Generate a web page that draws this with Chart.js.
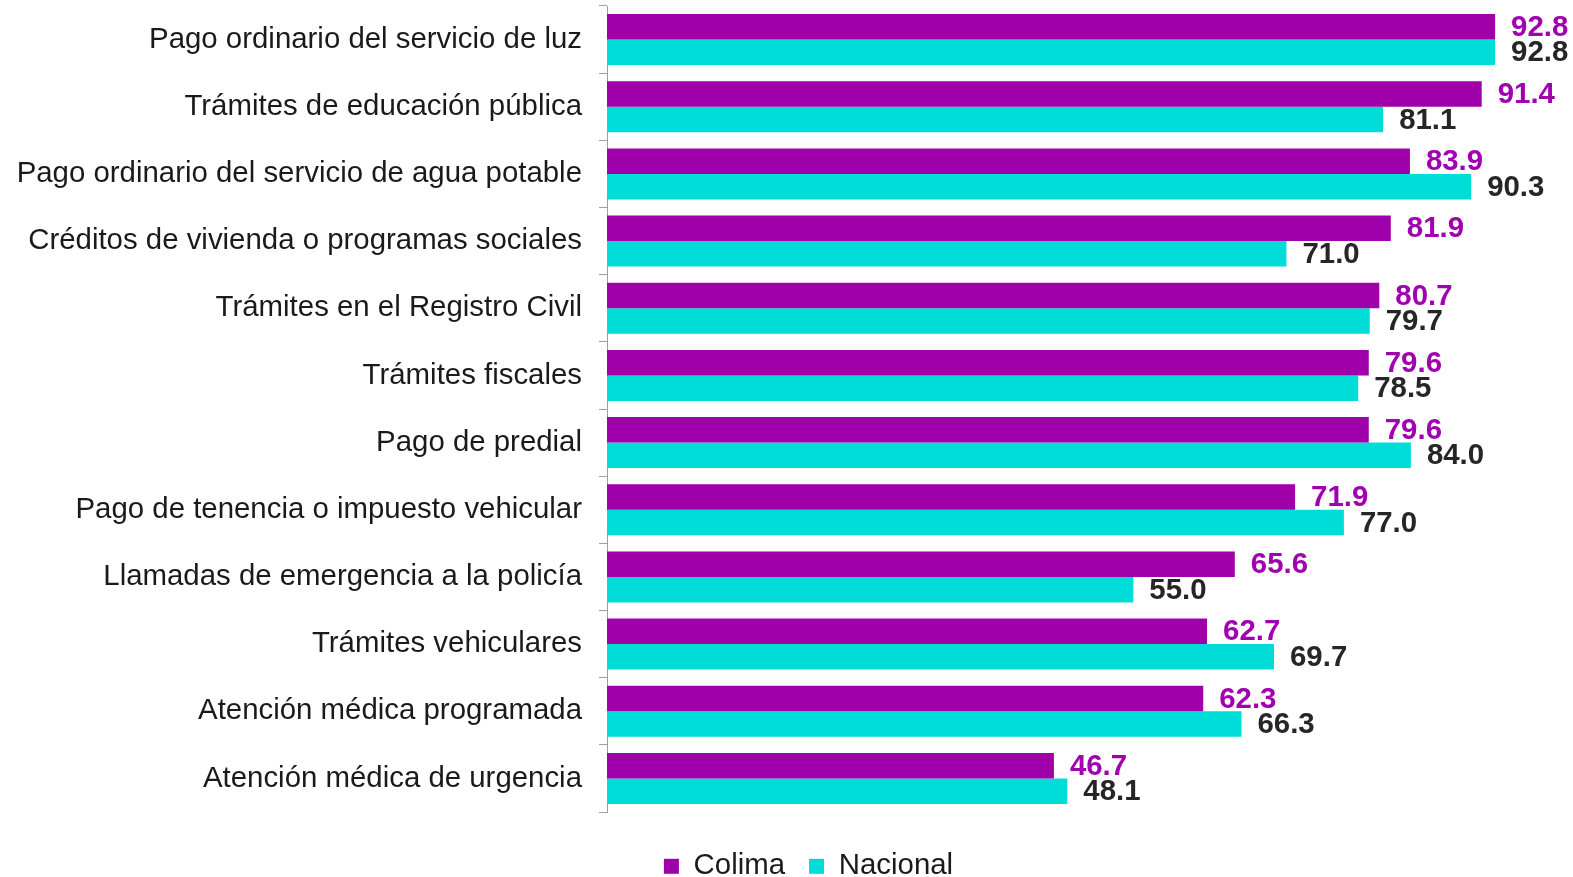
<!DOCTYPE html>
<html>
<head>
<meta charset="utf-8">
<script src="https://cdn.jsdelivr.net/npm/chart.js@4/dist/chart.umd.min.js"></script>
<style>
  html, body { margin: 0; padding: 0; background: #ffffff; }
  #wrap { width: 1573px; height: 877px; position: relative; }
</style>
</head>
<body>
<div id="wrap"><canvas id="c" width="1573" height="877"></canvas></div>
<script>
const categories = [
  "Pago ordinario del servicio de luz",
  "Trámites de educación pública",
  "Pago ordinario del servicio de agua potable",
  "Créditos de vivienda o programas sociales",
  "Trámites en el Registro Civil",
  "Trámites fiscales",
  "Pago de predial",
  "Pago de tenencia o impuesto vehicular",
  "Llamadas de emergencia a la policía",
  "Trámites vehiculares",
  "Atención médica programada",
  "Atención médica de urgencia"
];
const colima = [92.8, 91.4, 83.9, 81.9, 80.7, 79.6, 79.6, 71.9, 65.6, 62.7, 62.3, 46.7];
const nacional = [92.8, 81.1, 90.3, 71.0, 79.7, 78.5, 84.0, 77.0, 55.0, 69.7, 66.3, 48.1];
const seriesNames = ["Colima", "Nacional"];

const FONT = '"Liberation Sans", Arial, sans-serif';
const FS = 29.4;
const barColors = ["#9F00AA", "#00DCD8"];
const labelColors = ["#A000B0", "#262626"];

const valueLabels = {
  id: 'valueLabels',
  afterDatasetsDraw(chart) {
    const ctx = chart.ctx;
    chart.data.datasets.forEach((ds, di) => {
      const meta = chart.getDatasetMeta(di);
      meta.data.forEach((bar, i) => {
        ctx.save();
        ctx.font = 'bold ' + FS + 'px ' + FONT;
        ctx.fillStyle = labelColors[di];
        ctx.textAlign = 'left';
        ctx.textBaseline = 'middle';
        ctx.fillText(ds.data[i].toFixed(1), bar.x + 16, bar.y + 1);
        ctx.restore();
      });
    });
  }
};

const legendShift = {
  id: 'legendShift',
  afterLayout(chart) {
    if (chart.legend) { chart.legend.left = 53; }
  }
};

new Chart(document.getElementById('c'), {
  type: 'bar',
  data: {
    labels: categories,
    datasets: [
      { label: seriesNames[0], data: colima, backgroundColor: barColors[0], borderWidth: 0,
        categoryPercentage: 0.76, barPercentage: 1.0 },
      { label: seriesNames[1], data: nacional, backgroundColor: barColors[1], borderWidth: 0,
        categoryPercentage: 0.76, barPercentage: 1.0 }
    ]
  },
  options: {
    indexAxis: 'y',
    responsive: false,
    animation: false,
    layout: { padding: { top: 6, right: 9, left: 0, bottom: -14 } },
    plugins: {
      legend: {
        position: 'bottom',
        align: 'center',
        title: { display: true, text: ' ', padding: 0, font: { size: 13, lineHeight: 1.2 } },
        labels: {
          boxWidth: 15, boxHeight: 15, padding: 24,
          color: '#1a1a1a',
          font: { family: FONT, size: FS }
        }
      },
      tooltip: { enabled: false }
    },
    scales: {
      x: { display: false, min: 0, max: 100 },
      y: {
        grid: { display: true, drawOnChartArea: false, drawTicks: true, tickLength: 8, color: '#9f9f9f', offset: true },
        border: { display: true, color: '#9f9f9f', width: 1 },
        ticks: { color: '#1a1a1a', padding: 17, font: { family: FONT, size: FS } },
        afterFit(scale) { scale.width = 607; scale.paddingTop = 0; scale.paddingBottom = 0; }
      }
    }
  },
  plugins: [valueLabels, legendShift]
});
</script>
</body>
</html>
